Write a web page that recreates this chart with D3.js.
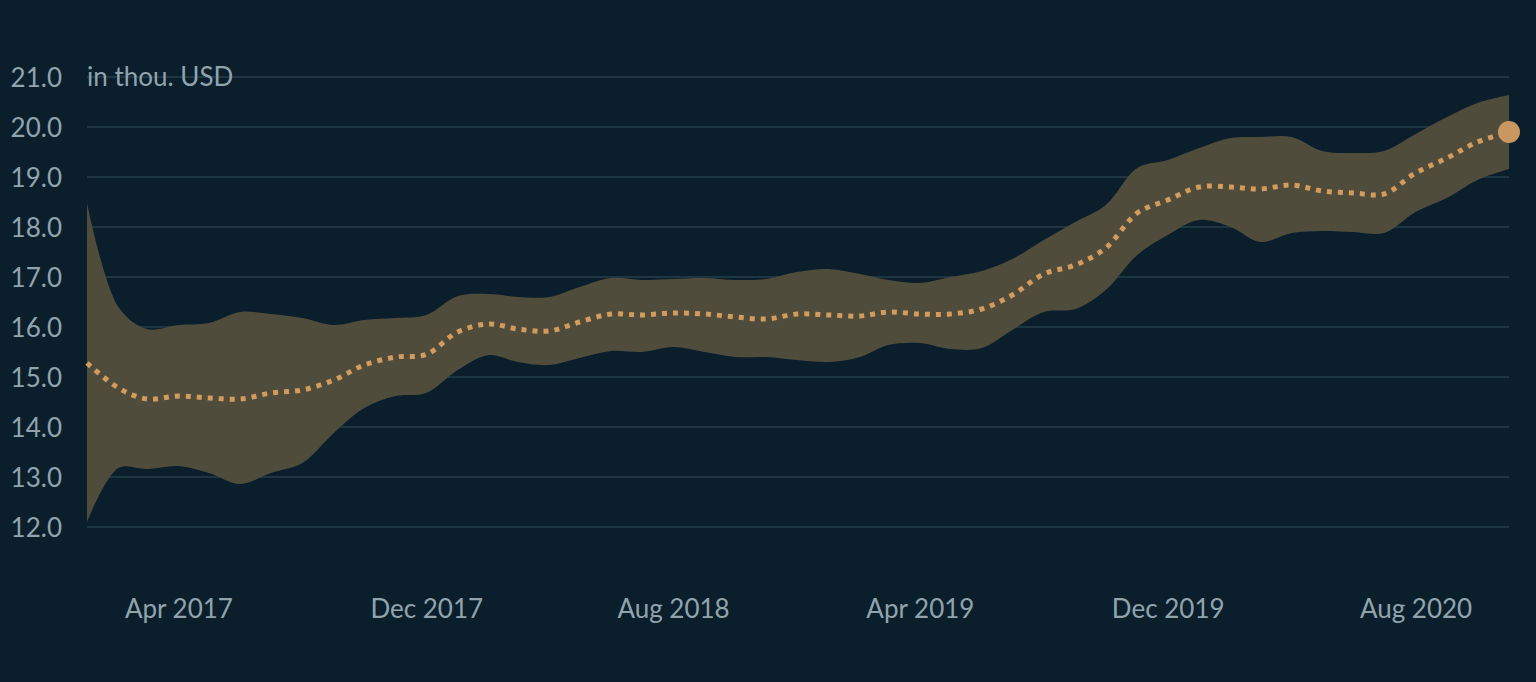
<!DOCTYPE html>
<html>
<head>
<script src="https://d3js.org/d3.v7.min.js"></script>
<style>
  body {margin: 0; background: #0a1f2b; font-family: Lato, "Open Sans", sans-serif;}
  .axis text {font: 26px Lato; fill: #91a4ae;}
  .axis .domain, .axis line {display: none;}
</style>
</head>
<body>
<svg id="chart" width="1536" height="682"></svg>
<script>
// monthly points, Jan 2017 .. Nov 2020
var startMonth = new Date(2017, 0, 1);
var median = [15.28, 14.78, 14.56, 14.62, 14.58, 14.56, 14.68, 14.74, 14.94, 15.24,
              15.40, 15.45, 15.90, 16.06, 15.96, 15.92, 16.10, 16.26, 16.24, 16.28,
              16.26, 16.20, 16.16, 16.26, 16.24, 16.22, 16.30, 16.26, 16.26, 16.36,
              16.64, 17.06, 17.24, 17.58, 18.28, 18.54, 18.80, 18.80, 18.76, 18.84,
              18.72, 18.68, 18.66, 19.08, 19.38, 19.70, 19.90];
var upper = [18.48, 16.40, 15.96, 16.04, 16.08, 16.30, 16.26, 16.18, 16.04, 16.14,
             16.18, 16.24, 16.62, 16.66, 16.60, 16.60, 16.80, 16.98, 16.94, 16.96,
             16.98, 16.94, 16.96, 17.10, 17.16, 17.06, 16.94, 16.88, 17.00, 17.12,
             17.36, 17.74, 18.10, 18.44, 19.18, 19.34, 19.58, 19.78, 19.80, 19.80,
             19.52, 19.48, 19.52, 19.86, 20.20, 20.48, 20.64];
var lower = [12.10, 13.18, 13.16, 13.22, 13.08, 12.86, 13.08, 13.28, 13.88, 14.38,
             14.62, 14.68, 15.14, 15.44, 15.30, 15.24, 15.38, 15.52, 15.50, 15.60,
             15.50, 15.40, 15.40, 15.34, 15.30, 15.40, 15.64, 15.68, 15.56, 15.58,
             15.94, 16.30, 16.36, 16.74, 17.44, 17.84, 18.14, 18.00, 17.70, 17.88,
             17.92, 17.90, 17.88, 18.30, 18.58, 18.94, 19.16];
var yTicks = [12, 13, 14, 15, 16, 17, 18, 19, 20, 21];
var xTicks = [new Date(2017, 3, 1), new Date(2017, 11, 1), new Date(2018, 7, 1),
              new Date(2019, 3, 1), new Date(2019, 11, 1), new Date(2020, 7, 1)];
var yUnit = "in thou. USD";

var data = median.map(function(m, i) {
  return {date: d3.timeMonth.offset(startMonth, i), mid: m, hi: upper[i], lo: lower[i]};
});

var svg = d3.select("#chart"),
    margin = {top: 77, right: 27, bottom: 155, left: 87},
    width = +svg.attr("width") - margin.left - margin.right,
    height = +svg.attr("height") - margin.top - margin.bottom,
    g = svg.append("g").attr("transform", "translate(" + margin.left + "," + margin.top + ")");

var x = d3.scaleTime()
    .domain([data[0].date, data[data.length - 1].date])
    .range([0, width]);
var y = d3.scaleLinear().domain([12, 21]).range([height, 0]);

// grid
g.append("g").selectAll("line")
    .data(yTicks)
    .enter().append("line")
    .attr("x1", 0).attr("x2", width)
    .attr("y1", function(d) { return y(d); })
    .attr("y2", function(d) { return y(d); })
    .attr("stroke", "#1e3542")
    .attr("stroke-width", 2);

// y labels
g.append("g")
    .attr("class", "axis")
    .attr("transform", "translate(-25,0)")
    .call(d3.axisLeft(y).tickValues(yTicks).tickFormat(d3.format(".1f")).tickSize(0).tickPadding(0))
    .selectAll("text").attr("dy", "0.35em");

g.append("text")
    .attr("x", 0)
    .attr("y", y(21))
    .attr("dy", "0.35em")
    .attr("font-size", 26)
    .attr("font-family", "Lato")
    .attr("fill", "#91a4ae")
    .text(yUnit);

// x labels
g.append("g")
    .attr("class", "axis")
    .attr("transform", "translate(0," + (height + 73) + ")")
    .call(d3.axisBottom(x).tickValues(xTicks).tickFormat(d3.timeFormat("%b %Y")).tickSize(0).tickPadding(0));

var curve = d3.curveCatmullRom.alpha(0.5);

g.append("path")
    .datum(data)
    .attr("fill", "#4f4c3c")
    .attr("d", d3.area()
        .curve(curve)
        .x(function(d) { return x(d.date); })
        .y0(function(d) { return y(d.lo); })
        .y1(function(d) { return y(d.hi); }));

g.append("path")
    .datum(data)
    .attr("fill", "none")
    .attr("stroke", "#d39b5c")
    .attr("stroke-width", 5)
    .attr("stroke-dasharray", "5,6")
    .attr("d", d3.line()
        .curve(curve)
        .x(function(d) { return x(d.date); })
        .y(function(d) { return y(d.mid); }));

var last = data[data.length - 1];
g.append("circle")
    .attr("cx", x(last.date))
    .attr("cy", y(last.mid))
    .attr("r", 11)
    .attr("fill", "#c9975f");
</script>
</body>
</html>
